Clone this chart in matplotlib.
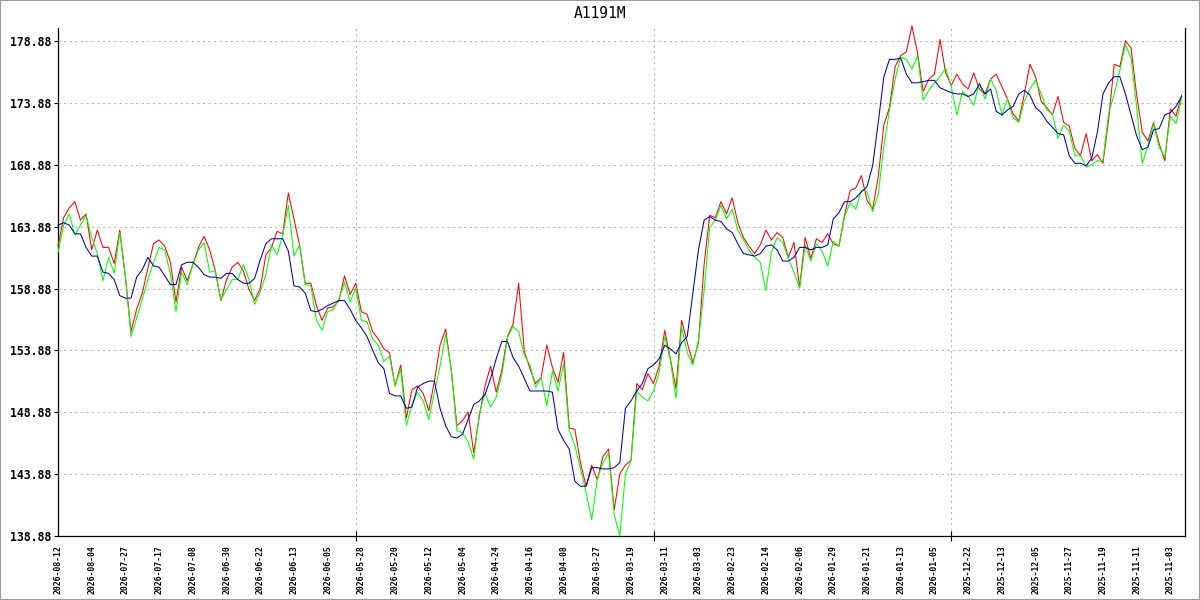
import matplotlib
matplotlib.use("Agg")
import matplotlib.pyplot as plt
from matplotlib.patches import Rectangle
import numpy as np

title = "A1191M"

date_labels = ["2026-08-12", "2026-08-04", "2026-07-27", "2026-07-17", "2026-07-08", "2026-06-30",
               "2026-06-22", "2026-06-13", "2026-06-05", "2026-05-28", "2026-05-20", "2026-05-12",
               "2026-05-04", "2026-04-24", "2026-04-16", "2026-04-08", "2026-03-27", "2026-03-19",
               "2026-03-11", "2026-03-03", "2026-02-23", "2026-02-14", "2026-02-06", "2026-01-29",
               "2026-01-21", "2026-01-13", "2026-01-05", "2025-12-22", "2025-12-13", "2025-12-05",
               "2025-11-27", "2025-11-19", "2025-11-11", "2025-11-03"]

red = [162.3, 164.6, 165.4, 165.9, 164.4, 164.9, 162.0, 163.6, 162.2, 162.2,
       160.9, 163.6, 159.8, 155.4, 157.2, 158.5, 160.5, 162.5, 162.8, 162.3,
       161.0, 157.8, 160.6, 159.5, 160.8, 162.2, 163.1, 162.0, 160.3, 157.9,
       159.6, 160.6, 161.0, 160.3, 158.8, 157.9, 158.9, 161.6, 162.2, 163.5,
       163.3, 166.6, 164.5, 162.4, 159.3, 159.3, 157.5, 156.3, 157.3, 157.4,
       157.9, 159.9, 158.4, 159.3, 157.0, 156.8, 155.4, 154.8, 154.0, 153.7,
       151.0, 152.7, 148.4, 150.7, 151.0, 150.4, 149.0, 151.4, 154.3, 155.6,
       152.3, 147.8, 148.2, 148.9, 145.6, 148.6, 151.0, 152.6, 150.5, 152.3,
       155.0, 156.0, 159.3, 153.8, 152.4, 151.2, 151.7, 154.3, 152.5, 151.3,
       153.7, 147.6, 147.5, 144.8, 142.9, 144.6, 143.4, 145.3, 145.9, 141.0,
       143.9, 144.6, 145.0, 151.2, 150.7, 152.0, 151.2, 152.6, 155.5, 153.2,
       150.8, 156.3, 154.5, 152.9, 154.5, 160.8, 164.8, 164.6, 165.9, 164.9,
       166.2, 164.2, 163.0, 162.3, 161.7, 162.4, 163.6, 162.8, 163.4, 163.0,
       161.4, 162.6, 159.0, 163.0, 161.3, 162.9, 162.6, 163.3, 162.5, 162.3,
       164.8, 166.8, 167.0, 168.0, 166.0, 165.3, 167.9, 172.1, 173.5, 176.8,
       177.7, 178.0, 180.1, 177.9, 174.8, 175.8, 176.2, 179.0, 176.3, 175.3,
       176.2, 175.4, 175.0, 176.3, 175.0, 174.6, 175.8, 176.2, 175.2, 174.2,
       173.0, 172.4, 174.6, 177.0, 176.0, 174.0, 173.5, 172.9, 174.4, 172.3,
       172.0, 170.2, 169.6, 171.4, 169.2, 169.7, 169.0, 172.5, 177.0, 176.8,
       178.9, 178.3, 174.5, 171.5, 170.8, 172.3, 170.6, 169.2, 173.4, 172.8,
       174.5]

green = [161.8, 164.0, 164.9, 163.2, 164.0, 164.8, 163.0, 161.7, 159.5, 161.4,
         160.1, 163.4, 159.8, 155.0, 156.5, 158.0, 159.6, 161.0, 162.2, 162.0,
         160.1, 157.0, 160.2, 159.2, 160.8, 162.0, 162.6, 160.2, 160.3, 158.0,
         158.8, 159.6, 159.6, 160.8, 159.6, 157.6, 158.6, 160.0, 162.4, 161.6,
         163.2, 165.6, 161.5, 162.4, 159.2, 159.1, 156.3, 155.5, 157.0, 157.2,
         158.0, 159.4, 157.8, 158.9, 156.3, 156.2, 154.8, 154.3, 153.0, 153.4,
         151.0, 152.4, 147.8, 149.5, 150.5, 149.8, 148.3, 150.5, 152.6, 155.2,
         152.3, 147.4, 147.2, 146.5, 145.1, 148.8, 150.4, 149.3, 150.1, 151.9,
         154.9, 155.8, 155.4, 153.5, 152.7, 150.9, 151.7, 149.4, 152.2, 150.6,
         152.8, 147.4, 146.2, 144.3, 142.4, 140.2, 143.5, 144.8, 145.6, 140.6,
         138.9, 143.9, 145.0, 150.6, 150.1, 149.8, 150.6, 152.1, 155.0, 153.1,
         150.0, 155.8, 153.7, 152.7, 154.7, 158.7, 163.8, 164.4, 165.6, 164.5,
         165.3, 163.6, 162.8, 162.0, 161.4, 161.0, 158.7, 161.8, 163.0, 162.6,
         161.3, 160.2, 158.9, 162.4, 161.1, 162.5, 161.9, 160.7, 162.7, 162.3,
         164.7, 165.8, 165.3, 166.8, 166.7, 165.1, 166.5, 170.4, 173.3, 175.8,
         177.6, 177.4, 176.6, 177.7, 174.1, 174.9, 175.5, 176.0, 176.7, 175.2,
         172.9, 174.8, 174.4, 173.7, 175.5, 174.2, 175.8, 174.9, 172.9, 174.2,
         172.7, 172.3, 174.0, 175.0, 175.7, 174.6, 173.3, 173.0, 171.0, 172.1,
         171.6, 169.6, 169.6, 168.7, 168.9, 169.2, 169.2, 173.0, 174.6, 176.5,
         178.6, 177.5, 173.5, 169.0, 170.4, 172.2, 170.3, 169.5, 172.8, 172.2,
         174.3]

blue = [164.0, 164.2, 164.0, 163.3, 163.3, 162.2, 161.5, 161.5, 160.2, 160.1,
        159.6, 158.3, 158.1, 158.1, 159.8, 160.4, 161.4, 160.7, 160.6, 159.9,
        159.2, 159.2, 160.8, 161.0, 161.0, 160.6, 160.0, 159.8, 159.8, 159.7,
        160.1, 160.1, 159.6, 159.3, 159.3, 159.7, 161.2, 162.5, 162.9, 162.9,
        162.9, 161.9, 159.1, 159.0, 158.5, 157.1, 157.0, 157.2, 157.5, 157.7,
        157.9, 157.9, 157.2, 156.3, 155.7, 155.0, 153.9, 152.9, 152.4, 150.4,
        150.2, 150.2, 149.2, 149.3, 150.9, 151.2, 151.4, 151.4, 149.2, 147.8,
        146.9, 146.8, 147.1, 148.3, 149.5, 149.8, 150.3, 151.6, 153.2, 154.6,
        154.6, 153.3, 152.6, 151.6, 150.6, 150.6, 150.6, 150.6, 150.5, 147.5,
        146.6, 145.9, 143.3, 142.9, 142.9, 144.4, 144.4, 144.3, 144.3, 144.4,
        144.8, 149.2, 149.8, 150.6, 151.2, 152.4, 152.7, 153.2, 154.3, 154.0,
        153.6, 154.5, 155.0, 158.5, 162.0, 164.4, 164.7, 164.4, 164.3, 163.7,
        163.4, 162.5, 161.7, 161.6, 161.5, 161.7, 162.3, 162.4, 162.0, 161.1,
        161.1, 161.4, 162.2, 162.2, 162.0, 162.2, 162.2, 162.4, 164.5, 165.0,
        165.9, 165.9, 166.2, 166.7, 167.1, 168.8, 172.3, 176.0, 177.4, 177.4,
        177.5, 176.2, 175.5, 175.5, 175.6, 175.7, 175.7, 175.1, 174.9, 174.7,
        174.6, 174.6, 174.4, 174.6, 175.4, 174.6, 175.0, 173.2, 172.9, 173.3,
        173.6, 174.6, 174.9, 174.5, 173.5, 173.1, 172.4, 171.9, 171.4, 171.3,
        169.6, 169.0, 169.0, 168.8, 169.4, 171.5, 174.6, 175.5, 176.0, 176.0,
        174.6, 172.9, 171.2, 170.1, 170.3, 171.7, 171.8, 172.9, 173.1, 173.6,
        174.4]

y_ticks = [138.88, 143.88, 148.88, 153.88, 158.88, 163.88, 168.88, 173.88, 178.88]
label_step = 6
major_grid_idx = [0, 53, 106, 159]

n = len(red)
x = np.arange(n)

W, H = 1200, 600
fig = plt.figure(figsize=(W / 100, H / 100), dpi=100)
left_px, right_px, top_px, bottom_px = 58, 1185, 28, 536
ax = fig.add_axes([left_px / W, (H - bottom_px) / H, (right_px - left_px) / W, (bottom_px - top_px) / H])

lw = 0.75
ax.plot(x, red, color="#ff0000", lw=lw, antialiased=True, clip_on=False, zorder=3)
ax.plot(x, green, color="#00ff00", lw=lw, antialiased=True, clip_on=False, zorder=4)
ax.plot(x, blue, color="#0000b4", lw=lw, antialiased=True, clip_on=False, zorder=5)

ax.set_xlim(0, 200.6)
ax.set_ylim(138.88, 138.88 + (bottom_px - top_px) / 12.375)

mono = "DejaVu Sans Mono"
ax.set_yticks(y_ticks)
ax.set_yticklabels([f"{v:.2f}" for v in y_ticks], fontfamily=mono, fontweight="bold", fontsize=8.3)
ax.tick_params(axis="y", which="major", direction="out", length=3, width=0.8, pad=2, colors="black")

lab_pos = [i * label_step for i in range(len(date_labels))]
ax.set_xticks(lab_pos)
ax.set_xticklabels(date_labels, rotation=90, fontfamily=mono, fontweight="bold", fontsize=5.9,
                   ha="center", va="top")
ax.tick_params(axis="x", which="major", length=0, pad=7)

ax.set_xticks(major_grid_idx, minor=True)
ax.tick_params(axis="x", which="minor", direction="inout", length=7, width=0.8, colors="black")

grid_style = dict(color="#b8b8b8", linestyle=(0, (2, 3)), linewidth=0.8)
ax.grid(False)
ax.grid(True, which="major", axis="y", **grid_style)
ax.grid(True, which="minor", axis="x", **grid_style)
ax.set_axisbelow(True)

for s in ["left", "bottom", "right"]:
    ax.spines[s].set_color("black")
    ax.spines[s].set_linewidth(0.9)
ax.spines["top"].set_visible(False)

fig.text(0.5, 1 - 13 / H, title, ha="center", va="center", fontfamily=mono, fontsize=10.5)

fig.patches.append(Rectangle((0, 0), 1, 1, transform=fig.transFigure, fill=False,
                             edgecolor="#999999", linewidth=1.5))

fig.savefig("out.png", dpi=100)
